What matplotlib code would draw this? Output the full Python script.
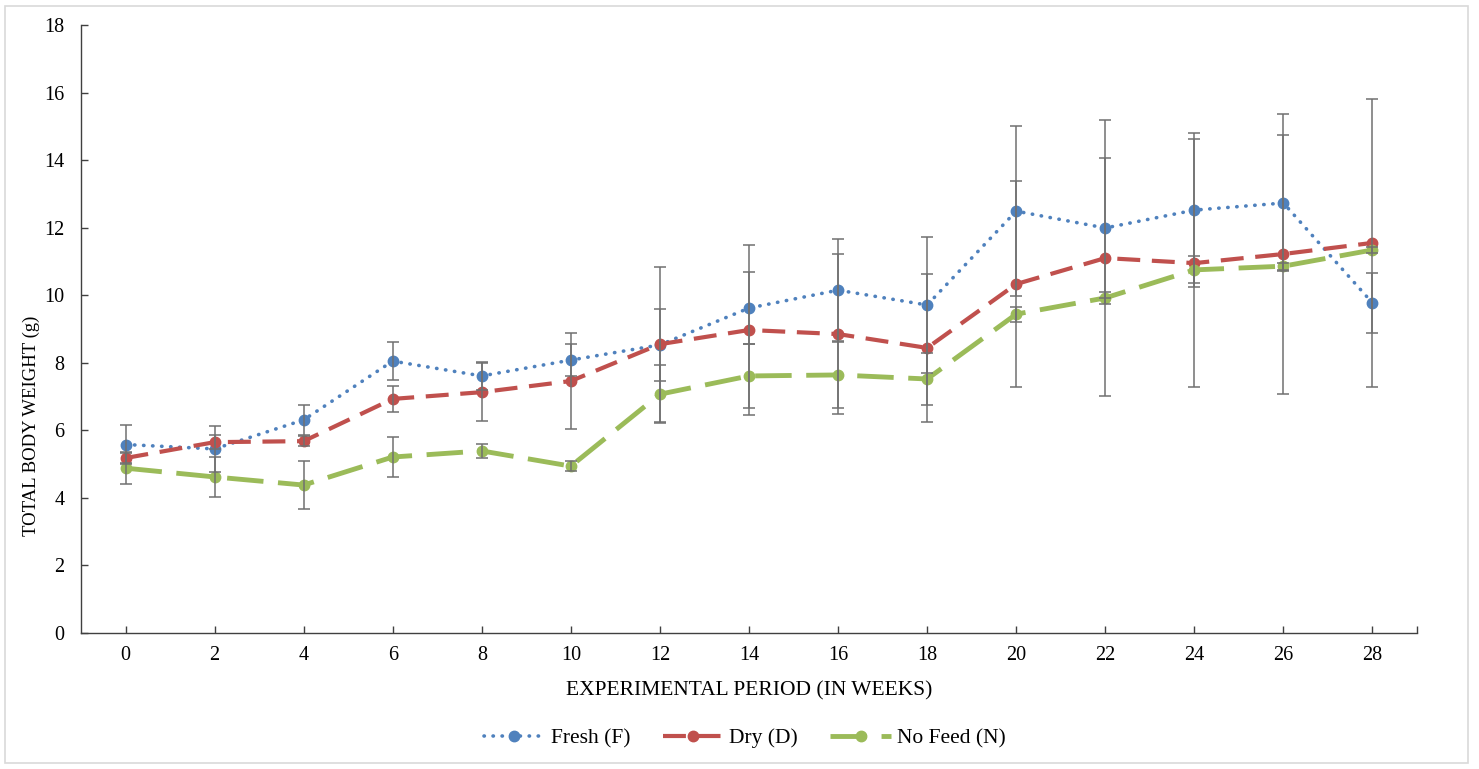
import matplotlib
matplotlib.use("Agg")
import matplotlib.pyplot as plt
from matplotlib.patches import Rectangle
import numpy as np

weeks = [0, 2, 4, 6, 8, 10, 12, 14, 16, 18, 20, 22, 24, 26, 28]

fresh = [5.58, 5.45, 6.31, 8.05, 7.61, 8.08, 8.53, 9.62, 10.15, 9.71, 12.49, 11.99, 12.52, 12.73, 9.77]
fresh_err = [0.58, 0.68, 0.44, 0.56, 0.41, 0.47, 1.06, 1.07, 1.51, 2.00, 2.52, 2.07, 2.28, 2.01, 0.90]

dry = [5.18, 5.65, 5.68, 6.93, 7.13, 7.46, 8.55, 8.97, 8.85, 8.44, 10.33, 11.10, 10.95, 11.22, 11.55]
dry_err = [0.15, 0.20, 0.15, 0.38, 0.85, 1.42, 2.30, 2.52, 2.36, 2.20, 3.05, 4.08, 3.67, 4.14, 4.26]

nofeed = [4.88, 4.62, 4.38, 5.21, 5.39, 4.94, 7.07, 7.61, 7.64, 7.52, 9.44, 9.92, 10.75, 10.86, 11.34]
nofeed_err = [0.47, 0.59, 0.70, 0.60, 0.20, 0.15, 0.86, 0.95, 0.98, 0.76, 0.22, 0.19, 0.40, 0.10, 0.10]

labels = ["Fresh (F)", "Dry (D)", "No Feed (N)"]
colors = ["#4F81BD", "#C0504D", "#9BBB59"]

plt.rcParams['font.family'] = ['Liberation Serif', 'DejaVu Serif']

fig = plt.figure(figsize=(14.79, 7.69), dpi=100)
fig.add_artist(Rectangle((5/1479, 6/769), 1463/1479, 757/769, transform=fig.transFigure,
                         fill=False, edgecolor="#D9D9D9", linewidth=1.2))
ax = fig.add_axes([81/1479, 136/769, 1336/1479, 608/769])

series = [(fresh, fresh_err), (dry, dry_err), (nofeed, nofeed_err)]
styles = [
    dict(linestyle=(0, (0.1, 2.4)), linewidth=2.6, dash_capstyle='round'),
    dict(linestyle=(0, (5.5, 2.8)), linewidth=3.0),
    dict(linestyle=(0, (7.5, 3.0)), linewidth=3.5),
]
for (vals, err), lab, col, st in zip(series, labels, colors, styles):
    ax.plot(weeks, vals, color=col, marker='o', markersize=7.5, label=lab, zorder=2, **st)
    ax.errorbar(weeks, vals, yerr=err, fmt='none', ecolor='#707070', elinewidth=1.1,
                capsize=4, capthick=1.1, zorder=3)

ax.set_xlim(-1, 29)
ax.set_ylim(0, 18)
ax.set_xticks(weeks)
ax.set_xticks([29], minor=True)
ax.set_yticks(np.arange(0, 19, 2))
ax.tick_params(axis='both', direction='in', length=5, width=1, colors='#404040',
               labelsize=14.5, labelcolor='black')
ax.tick_params(axis='x', which='minor', direction='in', length=5, width=1, colors='#404040')
ax.tick_params(axis='x', pad=9)
ax.tick_params(axis='y', pad=12)
for s in ['top', 'right']:
    ax.spines[s].set_visible(False)
for s in ['left', 'bottom']:
    ax.spines[s].set_color('#404040')
    ax.spines[s].set_linewidth(1)

ax.set_xlabel("EXPERIMENTAL PERIOD (IN WEEKS)", fontsize=15.5, labelpad=12)
ax.set_ylabel("TOTAL BODY WEIGHT (g)", fontsize=13.5)
ax.yaxis.set_label_coords(-0.031, 0.34)

leg = fig.legend(loc='center', bbox_to_anchor=(745/1479, 1 - 738/769), ncol=3, frameon=False,
                 fontsize=15.5, handlelength=2.8, columnspacing=1.5, handletextpad=0.3)

fig.savefig("out.png", dpi=100)
